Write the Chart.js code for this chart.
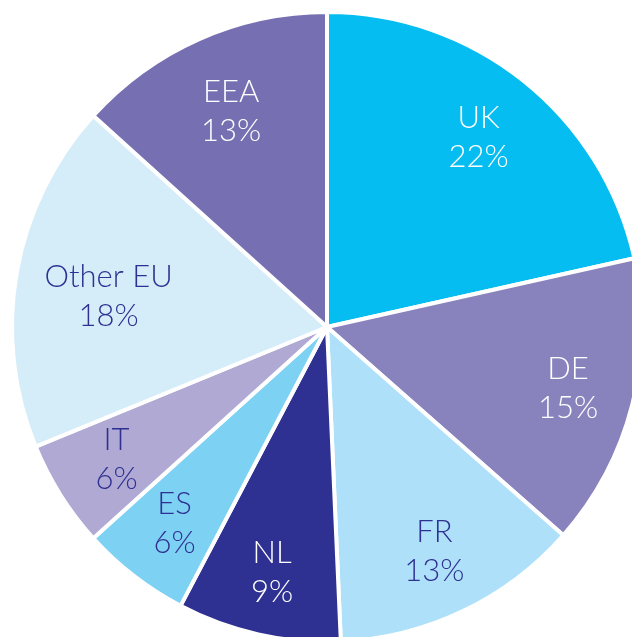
<!DOCTYPE html>
<html>
<head>
<meta charset="utf-8">
<script src="https://cdn.jsdelivr.net/npm/chart.js@4.4.1/dist/chart.umd.min.js"></script>
<style>
  html, body { margin: 0; padding: 0; background: #fff; overflow: hidden; width: 632px; height: 637px; }
  #wrap { position: absolute; left: 0; top: 0; width: 654px; height: 654px; }
</style>
</head>
<body>
<div id="wrap"><canvas id="pie" width="654" height="654"></canvas></div>
<script>
// 地域別構成比（円グラフ）
const REGIONS = ["UK", "DE", "FR", "NL", "ES", "IT", "Other EU", "EEA"];
const SHARES = [21.5, 15.0, 12.8, 8.4, 5.6, 5.5, 17.9, 13.3];
const SHARE_LABELS = ["22%", "15%", "13%", "9%", "6%", "6%", "18%", "13%"];

const COLORS = ["#05bdf1", "#8983bd", "#aee0f9", "#2e3191", "#7dd1f3", "#afa9d3", "#d5ecf9", "#7670b2"];
const TEXT_COLORS = ["#fff", "#fff", "#2e3191", "#fff", "#2e3191", "#2e3191", "#2e3191", "#fff"];
// ラベル位置（半径に対する割合・角度の微調整）
const LABEL_DIST = [0.77, 0.79, 0.79, 0.80, 0.79, 0.79, 0.70, 0.75];
const LABEL_SHIFT_DEG = [0, 0, 0, 0, 0, 0, -2, 0];

const sliceLabels = {
  id: "sliceLabels",
  afterDatasetsDraw(chart) {
    const { ctx } = chart;
    const meta = chart.getDatasetMeta(0);
    ctx.save();
    ctx.font = "300 31px Lato";
    ctx.textAlign = "center";
    ctx.textBaseline = "middle";
    meta.data.forEach((arc, i) => {
      const p = arc.getProps(["x", "y", "startAngle", "endAngle", "outerRadius"], true);
      const mid = (p.startAngle + p.endAngle) / 2 + LABEL_SHIFT_DEG[i] * Math.PI / 180;
      const r = p.outerRadius * LABEL_DIST[i];
      const x = p.x + Math.cos(mid) * r;
      const y = p.y + Math.sin(mid) * r;
      ctx.fillStyle = TEXT_COLORS[i];
      ctx.fillText(REGIONS[i], x, y - 19.5);
      ctx.fillText(SHARE_LABELS[i], x, y + 19.5);
    });
    ctx.restore();
  }
};

new Chart(document.getElementById("pie").getContext("2d"), {
  type: "pie",
  data: {
    labels: REGIONS,
    datasets: [{
      data: SHARES,
      backgroundColor: COLORS,
      borderColor: "#fff",
      borderWidth: 4,
    }]
  },
  options: {
    responsive: false,
    devicePixelRatio: 1,
    animation: false,
    radius: 315,
    layout: { padding: 0 },
    plugins: {
      legend: { display: false },
      tooltip: { enabled: false },
    },
  },
  plugins: [sliceLabels],
});
</script>
</body>
</html>
